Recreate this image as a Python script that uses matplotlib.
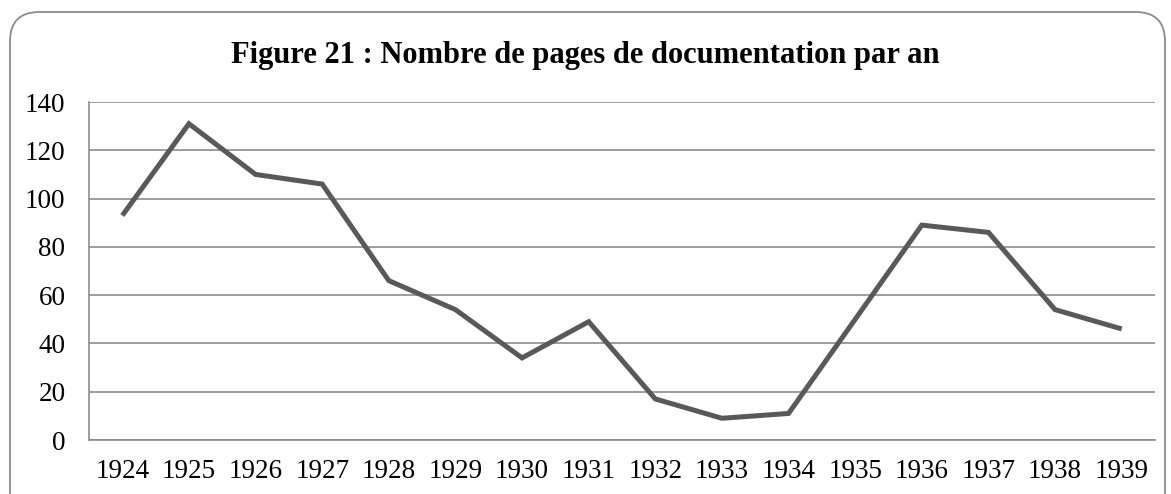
import matplotlib
matplotlib.use("Agg")
import matplotlib.pyplot as plt
from matplotlib.patches import FancyBboxPatch

years = ["1924", "1925", "1926", "1927", "1928", "1929", "1930", "1931",
         "1932", "1933", "1934", "1935", "1936", "1937", "1938", "1939"]
pages = [93, 131, 110, 106, 66, 54, 34, 49, 17, 9, 11, 50, 89, 86, 54, 46]
yticks = [0, 20, 40, 60, 80, 100, 120, 140]

plt.rcParams['font.family'] = ['Liberation Serif', 'DejaVu Serif']

W, H = 1171, 494
fig = plt.figure(figsize=(W / 100, H / 100), dpi=100)

# rounded frame round the chart
frame = FancyBboxPatch((10 / W, -30 / H), 1155 / W, 512 / H,
                       boxstyle="round,pad=0,rounding_size=0.025",
                       transform=fig.transFigure, facecolor="white",
                       edgecolor="#8c8c8c", linewidth=1.3, zorder=-5,
                       mutation_aspect=W / H)
fig.patches.append(frame)

ax = fig.add_axes([89 / W, 54 / H, 1066 / W, 338 / H])
ax.set_zorder(2)
ax.set_facecolor("none")
x = range(len(years))
ax.plot(x, pages, color="#595959", linewidth=3.6, solid_joinstyle="miter",
        solid_capstyle="butt", zorder=3)

ax.set_xlim(-0.5, len(years) - 0.5)
ax.set_ylim(0, 140)
ax.set_yticks(yticks)
ax.set_xticks(list(x))
ax.set_xticklabels(years)
ax.grid(axis="y", color="#8c8c8c", linewidth=1.2)
ax.set_axisbelow(True)
for s in ["top", "right"]:
    ax.spines[s].set_visible(False)
for s in ["left", "bottom"]:
    ax.spines[s].set_color("#8c8c8c")
    ax.spines[s].set_linewidth(1.2)
ax.tick_params(axis="both", length=0, labelsize=19.5, colors="black")
ax.tick_params(axis="y", pad=17)
ax.tick_params(axis="x", pad=14)

fig.text(0.5, 1 - 55 / H, "Figure 21 : Nombre de pages de documentation par an",
         ha="center", va="center", fontsize=22, fontweight="bold")

fig.savefig("out.png", dpi=100)
